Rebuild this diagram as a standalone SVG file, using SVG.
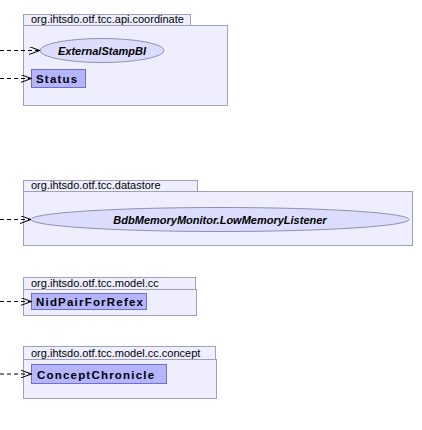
<svg xmlns="http://www.w3.org/2000/svg" width="422" height="430" viewBox="0 0 422 430">
<defs>
<style>
.pkg{fill:#eeeeff;stroke:#a0a0b8;stroke-width:1}
.tabt{font-family:"Liberation Sans",Arial,sans-serif;font-size:11px;fill:#000}
.iface{fill:#dcdcfc;stroke:#9090b0;stroke-width:1}
.cls{fill:#b4b4ff;stroke:#7070c8;stroke-width:1}
.it{font-family:"Liberation Sans",Arial,sans-serif;font-size:11px;font-weight:bold;font-style:italic;fill:#000}
.ct{font-family:"Liberation Sans",Arial,sans-serif;font-size:11.5px;font-weight:bold;fill:#000;letter-spacing:1.2px}
.dep{fill:none;stroke:#000;stroke-width:1;stroke-dasharray:4,3}
</style>
<marker id="open" markerWidth="12" markerHeight="8" refX="11" refY="4" orient="auto" markerUnits="userSpaceOnUse">
<path d="M0,0 L11,4 L0,8" fill="none" stroke="#000" stroke-width="1"/>
</marker>
</defs>
<rect width="422" height="430" fill="#fff"/>
<g id="pkg-coordinate">
<rect class="pkg" x="23.5" y="14.5" width="167" height="11"/>
<text class="tabt" x="31" y="23">org.ihtsdo.otf.tcc.api.coordinate</text>
<rect class="pkg" x="23.5" y="25.5" width="204" height="80"/>
</g>
<g id="ExternalStampBI">
<ellipse class="iface" cx="102" cy="50.5" rx="62" ry="12"/>
<text class="it" x="102" y="54.5" text-anchor="middle">ExternalStampBI</text>
</g>
<g id="Status">
<rect class="cls" x="31.5" y="69.5" width="54" height="18"/>
<text class="ct" x="36" y="82.5">Status</text>
</g>
<g id="pkg-datastore">
<rect class="pkg" x="23.5" y="180.5" width="174" height="11"/>
<text class="tabt" x="31" y="189">org.ihtsdo.otf.tcc.datastore</text>
<rect class="pkg" x="23.5" y="191.5" width="389" height="54"/>
</g>
<g id="LowMemoryListener">
<ellipse class="iface" cx="220" cy="219.5" rx="189" ry="12"/>
<text class="it" x="220" y="223.5" text-anchor="middle">BdbMemoryMonitor.LowMemoryListener</text>
</g>
<g id="pkg-model-cc">
<rect class="pkg" x="23.5" y="277.5" width="172" height="12"/>
<text class="tabt" x="31" y="287">org.ihtsdo.otf.tcc.model.cc</text>
<rect class="pkg" x="23.5" y="289.5" width="173" height="26"/>
</g>
<g id="NidPairForRefex">
<rect class="cls" x="31.5" y="293.5" width="115" height="16"/>
<text class="ct" x="36" y="305.5">NidPairForRefex</text>
</g>
<g id="pkg-model-cc-concept">
<rect class="pkg" x="23.5" y="346.5" width="192" height="13"/>
<text class="tabt" x="31" y="356.5">org.ihtsdo.otf.tcc.model.cc.concept</text>
<rect class="pkg" x="23.5" y="359.5" width="193" height="39"/>
</g>
<g id="ConceptChronicle">
<rect class="cls" x="31.5" y="364.5" width="135" height="19"/>
<text class="ct" x="37" y="378.5">ConceptChronicle</text>
</g>
<g id="connectors">
<line class="dep" x1="0" y1="50.5" x2="40" y2="50.5" marker-end="url(#open)"/>
<line class="dep" x1="0" y1="78.5" x2="31.5" y2="78.5" marker-end="url(#open)"/>
<line class="dep" x1="0" y1="219.5" x2="31" y2="219.5" marker-end="url(#open)"/>
<line class="dep" x1="0" y1="301.5" x2="31.5" y2="301.5" marker-end="url(#open)"/>
<line class="dep" x1="0" y1="374" x2="31.5" y2="374" marker-end="url(#open)"/>
</g>
</svg>
